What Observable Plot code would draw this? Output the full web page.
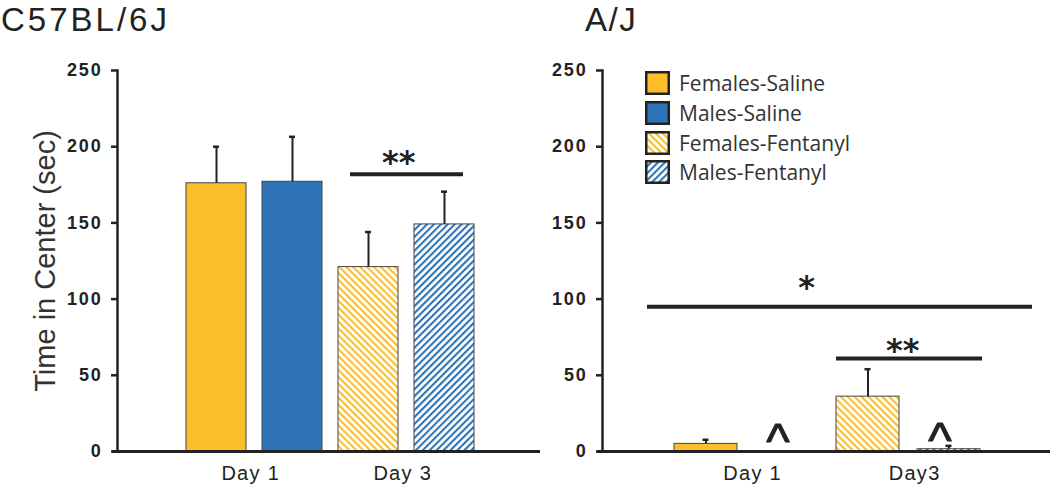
<!DOCTYPE html>
<html>
<head>
<meta charset="utf-8">
<script src="https://cdn.jsdelivr.net/npm/d3@7"></script>
<script src="https://cdn.jsdelivr.net/npm/@observablehq/plot@0.6"></script>
<style>
  html, body { margin: 0; padding: 0; background: #fff; }
  #wrap { position: relative; width: 1050px; height: 488px; overflow: hidden; font-family: "Liberation Sans", Arial, sans-serif; }
  .panel { position: absolute; top: 0; }
  .title { height: 40px; line-height: 40px; font-size: 33px; color: #222; white-space: nowrap; }
  .panel svg { display: block; overflow: visible; }
  g[aria-label="y-axis tick label"] text { letter-spacing: 1.8px; font-size: 18px; font-weight: bold; }
  g[aria-label="x-axis tick label"] text { letter-spacing: 1.3px; font-size: 20px; }
  #legend { position: absolute; left: 100px; top: 71px; font-family: "Open Sans", sans-serif; font-size: 21px; color: #333; }
  .lrow { display: flex; align-items: center; height: 24px; margin-bottom: 5.8px; }
  .lrow svg { margin-right: 9px; flex: none; }
</style>
</head>
<body>
<svg width="0" height="0" style="position:absolute">
  <defs>
    <pattern id="hatchF" patternUnits="userSpaceOnUse" width="4.9" height="4.9" patternTransform="rotate(-45)">
      <rect x="0" y="0" width="4.9" height="4.9" fill="#fff"></rect>
      <rect x="0" y="0" width="2.1" height="4.9" fill="#FBBF2A"></rect>
    </pattern>
    <pattern id="hatchM" patternUnits="userSpaceOnUse" width="4.9" height="4.9" patternTransform="rotate(45)">
      <rect x="0" y="0" width="4.9" height="4.9" fill="#fff"></rect>
      <rect x="0" y="0" width="2.1" height="4.9" fill="#2E74B7"></rect>
    </pattern>
  </defs>
</svg>
<div id="wrap">
  <div class="panel" id="left" style="left:0px;width:545px;">
    <div class="title" id="leftTitle" style="padding-left:1px;letter-spacing:3px;"></div>
  </div>
  <div class="panel" id="right" style="left:545px;width:505px;">
    <div class="title" id="rightTitle" style="padding-left:40px;letter-spacing:1.5px;"></div>
    <div id="legend"></div>
  </div>
</div>
<script>
// ---- data ----
const groups = ["Females-Saline", "Males-Saline", "Females-Fentanyl", "Males-Fentanyl"];
const groupFills = ["#FBBF2A", "#2E74B7", "url(#hatchF)", "url(#hatchM)"];
const yTicks = [0, 50, 100, 150, 200, 250];
const yLabel = "Time in Center (sec)";

const c57Title = "C57BL/6J";
const c57DayLabels = ["Day 1", "Day 3"];
const c57Mean = [176, 177, 121, 149];
const c57Sem = [24, 29.5, 23, 21.5];
const c57PairSig = [{label: "**", from: "Females-Fentanyl", to: "Males-Fentanyl", line: 182, text: 194}];
const c57SpanSig = [];
const c57Carets = [];

const ajTitle = "A/J";
const ajDayLabels = ["Day 1", "Day3"];
const ajMean = [5, 0, 36, 1.5];
const ajSem = [2.7, 0, 18, 2.2];
const ajPairSig = [{label: "**", from: "Females-Fentanyl", to: "Males-Fentanyl", line: 61, text: 71}];
const ajSpanSig = [{label: "*", line: 95, text: 112}];
const ajCarets = [{group: "Males-Saline", y: 14}, {group: "Males-Fentanyl", y: 15}];

function panel(opts) {
  const rows = groups.map((g, i) => ({group: g, mean: opts.mean[i], sem: opts.sem[i], fill: groupFills[i]}));
  const withErr = rows.filter(d => d.sem > 0);
  const step = (opts.xRange[1] - opts.xRange[0]) / groups.length;
  const firstOfDay = [groups[0], groups[2]];
  const marks = [
    Plot.barY(rows, {x: "group", y: "mean", fill: "fill", stroke: "#444", strokeWidth: 1}),
    Plot.ruleX(withErr, {x: "group", y1: "mean", y2: d => d.mean + d.sem, stroke: "#222", strokeWidth: 2}),
    Plot.tickY(withErr, {x: "group", y: d => d.mean + d.sem, stroke: "#222", strokeWidth: 2.5, insetLeft: opts.capInset, insetRight: opts.capInset}),
    Plot.frame({anchor: "left", stroke: "#222", strokeWidth: 2.5}),
    Plot.ruleY([0], {stroke: "#222", strokeWidth: 3, insetLeft: -5}),
    Plot.axisY({ticks: yTicks, tickSize: 6, tickPadding: 9, color: "#222", strokeWidth: 2.5, fontSize: 18, fontWeight: "bold", label: null}),
    Plot.axisX({ticks: firstOfDay, tickFormat: (d, i) => opts.dayLabels[i], tickSize: 0, tickPadding: 14, dx: step / 2 + opts.labelDx, fontSize: 20, color: "#222", label: null}),
    Plot.ruleY(opts.pairSig, {y: "line", x1: "from", x2: "to", stroke: "#222", strokeWidth: 4, insetLeft: opts.pairInsetL, insetRight: opts.pairInsetR}),
    Plot.text(opts.pairSig, {x: "from", y: "text", text: "label", dx: step / 2 + opts.pairTextDx, dy: 7, fontSize: 32, fontWeight: "bold", fontFamily: "DejaVu Sans", fill: "#222"}),
    Plot.ruleY(opts.spanSig, {y: "line", stroke: "#222", strokeWidth: 4, insetLeft: 45, insetRight: 18}),
    Plot.text(opts.spanSig, {y: "text", text: "label", frameAnchor: "middle", dx: -20, dy: 7, fontSize: 32, fontWeight: "bold", fontFamily: "DejaVu Sans", fill: "#222"}),
    Plot.text(opts.carets, {x: "group", y: "y", text: () => "^", dx: -9, dy: 12, fontSize: 50, fontWeight: "normal", fontFamily: "Liberation Sans", fill: "#222", stroke: "#222", strokeWidth: 1})
  ];
  if (opts.yLabel) {
    marks.push(Plot.text([opts.yLabel], {frameAnchor: "left", textAnchor: "middle", lineAnchor: "middle", rotate: -90, dx: -72, fontSize: 29, fill: "#333"}));
  }
  return Plot.plot({
    width: opts.width,
    height: 448,
    marginLeft: opts.marginLeft,
    marginRight: opts.marginRight,
    marginTop: 30,
    marginBottom: 37,
    x: {domain: groups, range: opts.xRange, paddingInner: opts.padIn, paddingOuter: opts.padIn / 2, axis: null},
    y: {domain: [0, 250], axis: null},
    color: {type: "identity"},
    style: {fontFamily: "'Liberation Sans', Arial, sans-serif", background: "transparent", overflow: "visible"},
    marks
  });
}

document.getElementById("leftTitle").textContent = c57Title;
document.getElementById("rightTitle").textContent = ajTitle;

document.getElementById("left").appendChild(panel({
  width: 545, marginLeft: 117, marginRight: 5, xRange: [177, 483], padIn: 0.21,
  mean: c57Mean, sem: c57Sem, dayLabels: c57DayLabels, pairSig: c57PairSig, spanSig: c57SpanSig, carets: c57Carets,
  capInset: 27, labelDx: -4, pairInsetL: 12, pairInsetR: 11, pairTextDx: -8, yLabel: yLabel
}));

document.getElementById("right").appendChild(panel({
  width: 505, marginLeft: 57, marginRight: 0, xRange: [120, 445], padIn: 0.222,
  mean: ajMean, sem: ajSem, dayLabels: ajDayLabels, pairSig: ajPairSig, spanSig: ajSpanSig, carets: ajCarets,
  capInset: 28.5, labelDx: 6, pairInsetL: 0, pairInsetR: -2, pairTextDx: -6, yLabel: null
}));

// legend
const legend = d3.select("#legend");
groups.forEach((g, i) => {
  const row = legend.append("div").attr("class", "lrow");
  const s = row.append("svg").attr("width", 25).attr("height", 24);
  s.append("rect").attr("x", 1.25).attr("y", 1.25).attr("width", 22.5).attr("height", 21.5)
    .attr("fill", groupFills[i]).attr("stroke", "#222").attr("stroke-width", 2.5);
  row.append("span").text(g);
});
</script>
</body>
</html>
